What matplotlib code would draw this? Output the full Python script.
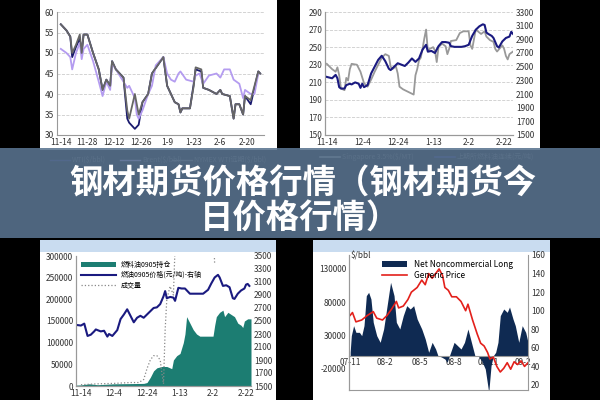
import numpy as np
import matplotlib
matplotlib.use('Agg')
import matplotlib.pyplot as plt
from matplotlib.patches import Rectangle

plt.rcParams['font.family'] = ['Noto Sans CJK SC', 'DejaVu Sans']
plt.rcParams['axes.unicode_minus'] = False

# --- top-left: crude oil ($/bbl), x = days since 11-14
tl_ticks = ['11-14', '11-28', '12-12', '12-26', '1-9', '1-23', '2-6', '2-20']
nymex_d = [0, 3, 5, 6, 8, 10, 11, 12, 14, 17, 20, 22, 24, 26, 27, 29, 33, 35, 36, 39, 41, 43, 46, 48, 51, 54,
           56, 58, 60, 62, 63, 64, 68, 70, 71, 74, 75, 78, 82, 84, 85, 89, 91, 92, 94, 96, 97, 100, 104, 105]
nymex_v = [57, 55.5, 54, 50, 52, 54.5, 50, 54.5, 54.5, 50, 46, 41, 43.5, 42, 48, 46, 44, 36, 34, 40, 35, 38, 40, 45, 47, 49,
           42, 40, 38, 37.5, 35.5, 36.5, 36.5, 42, 46.5, 46, 41.5, 41, 40, 41, 40, 39.5, 34, 37.5, 37.5, 35, 39.5, 38.5, 45.5, 45]
wti_v = [57, 55.5, 54, 49, 51.5, 53.5, 50, 54.5, 54.5, 50, 46, 41, 43.5, 42, 48, 46, 44, 34, 33, 31.5, 32.5, 38, 40, 45, 47, 49,
         42, 40, 38, 37.5, 35.5, 36.5, 36.5, 42.5, 46, 45.5, 41.5, 41, 40, 41, 40, 39.5, 34, 37.5, 37.5, 35, 39.5, 37.5, 45.5, 45]
brent_d = [0, 3, 5, 6, 8, 10, 11, 12, 14, 17, 20, 22, 24, 26, 27, 29, 33, 35, 36, 39, 40, 41, 43, 46, 48, 50, 54,
           56, 58, 60, 62, 63, 66, 70, 71, 73, 75, 78, 82, 84, 86, 89, 91, 94, 96, 97, 100, 102, 104]
brent_v = [51, 50, 49, 46, 50, 52.5, 48.5, 51, 52, 48, 43, 39.5, 43, 41, 47.5, 46, 43, 41.5, 42, 39, 35, 34, 36, 40, 42, 47, 49,
           45, 43.5, 43, 45, 45.5, 43.5, 43, 44.5, 45, 42.5, 44.5, 45, 44, 46, 46, 43.5, 42.5, 39, 41, 40, 40, 45]

# --- top-right: fuel oil
tr_ticks = ['11-14', '12-4', '12-24', '1-13', '2-2', '2-22']
sg_d = [0, 3, 5, 6, 7, 8, 10, 11, 12, 13, 14, 17, 19, 21, 23, 25, 27, 29, 31, 33, 35, 36, 37, 39, 40, 41, 43, 47, 48, 49,
        50, 51, 52, 53, 54, 55, 56, 57, 58, 60, 61, 62, 63, 65, 67, 68, 69, 70, 73, 75, 77, 80, 81, 82, 84, 87, 89, 90,
        92, 94, 95, 96, 99, 100, 101, 102, 103, 105]
sg_v = [231, 225, 222, 227, 218, 203, 201, 215, 212, 225, 231, 230, 222, 209, 205, 213, 222, 230, 238, 242, 240, 228, 225,
        228, 220, 205, 202, 198, 197, 196, 218, 225, 235, 238, 248, 260, 270, 245, 248, 250, 246, 233, 250, 254, 251, 242,
        248, 257, 258, 266, 268, 268, 252, 248, 270, 265, 268, 262, 258, 256, 248, 245, 252, 248, 240, 236, 242, 245]
shfe_d = [0, 3, 5, 6, 7, 8, 10, 11, 13, 14, 16, 18, 19, 20, 21, 23, 25, 27, 29, 31, 33, 35, 36, 38, 40, 42, 44, 46, 48, 50,
          52, 54, 56, 57, 59, 61, 63, 65, 67, 69, 70, 72, 76, 78, 80, 82, 84, 86, 88, 89, 90, 91, 93, 94, 96, 97, 99, 101,
          103, 104, 105]
shfe_v = [2350, 2330, 2380, 2330, 2200, 2180, 2180, 2230, 2250, 2240, 2270, 2250, 2190, 2250, 2200, 2230, 2400, 2500, 2600,
          2660, 2580, 2470, 2450, 2500, 2550, 2530, 2510, 2560, 2620, 2570, 2620, 2750, 2820, 2720, 2730, 2700, 2800, 2860,
          2860, 2850, 2800, 2790, 2790, 2800, 2820, 2950, 3040, 3090, 3120, 3110, 3000, 2980, 2950, 2920, 2800, 2780, 2870,
          2920, 2940, 3010, 2980]

# --- bottom-left: SHFE fuel oil 0905
bl_ticks = ['11-14', '12-4', '12-24', '1-13', '2-2', '2-22']
oi_d = [-3, 0, 5, 10, 15, 20, 30, 38, 40, 42, 44, 46, 49, 52, 55, 56, 58, 60, 62, 63, 64, 66, 68, 70, 72, 80, 81, 82, 84,
        86, 87, 89, 91, 93, 95, 97, 98, 99, 101, 103]
oi_v = [2000, 2500, 5000, 3000, 4000, 5000, 5500, 6000, 8000, 20000, 35000, 42000, 45000, 45000, 40000, 60000, 70000,
        75000, 100000, 120000, 160000, 145000, 130000, 120000, 115000, 115000, 140000, 160000, 170000, 175000, 160000,
        170000, 165000, 160000, 145000, 140000, 135000, 150000, 155000, 155000]
px_d = [-3, 0, 2, 4, 6, 8, 9, 12, 14, 16, 17, 19, 22, 24, 26, 28, 30, 32, 34, 36, 38, 40, 42, 44, 46, 48, 50, 51, 52, 54,
        56, 57, 59, 61, 63, 66, 70, 74, 77, 79, 81, 83, 84, 86, 88, 90, 92, 93, 95, 97, 99, 100, 101, 102]
px_v = [2440, 2430, 2460, 2270, 2290, 2340, 2370, 2340, 2350, 2260, 2300, 2270, 2360, 2530, 2600, 2680, 2580, 2480, 2550,
        2580, 2550, 2600, 2650, 2700, 2710, 2760, 2880, 2960, 2850, 2870, 2860, 2810, 3010, 3000, 3000, 2920, 2920, 2920,
        2980, 3080, 3170, 3210, 3170, 3040, 3050, 3020, 2850, 2840, 2920, 2970, 3000, 3060, 3070, 3040]
vol_d = [0, 10, 20, 30, 35, 38, 40, 42, 44, 46, 48, 49, 50, 51, 52, 54, 56, 57, 58, 60, 79, 80, 81]
vol_v = [3000, 5000, 6000, 8000, 8000, 15000, 40000, 60000, 70000, 70000, 60000, 30000, 5000, 130000, 200000, 230000,
         210000, 320000, 320000, 400000, 400000, 380000, 280000]

# --- bottom-right: CFTC crude (month index from 07-11)
br_ticks = ['07-11', '08-2', '08-5', '08-8', '08-11', '09-2']
net_m = [0, 0.1, 0.3, 0.5, 0.8, 1.0, 1.2, 1.4, 1.6, 1.8, 2.0, 2.3, 2.6, 2.9, 3.2, 3.5, 3.8, 4.0, 4.3, 4.6, 4.9, 5.2, 5.5,
         5.8, 6.2, 6.5, 6.8, 7.1, 7.4, 7.6, 7.9, 8.2, 8.4, 8.7, 9.0, 9.3, 9.6, 9.9, 10.2, 10.5, 10.8, 11.1, 11.4, 11.7,
         12.0, 12.2, 12.4, 12.6, 12.8, 13.0, 13.3, 13.6, 13.8, 14.1, 14.3, 14.6, 14.9, 15.2, 15.4]
net_v = [5000, 30000, 45000, 35000, 35000, 30000, 45000, 90000, 95000, 85000, 50000, 30000, 20000, 40000, 75000, 110000,
         90000, 50000, 40000, 60000, 75000, 70000, 75000, 55000, 40000, 25000, 5000, 20000, 10000, 0, -2000, -5000,
         -10000, 5000, 20000, 15000, 10000, 20000, 40000, 20000, 0, -1000, -8000, -20000, -55000, -15000, 0, 5000,
         20000, 60000, 70000, 65000, 73000, 55000, 45000, 20000, 45000, 35000, 20000]
price_m = [0, 0.2, 0.5, 1.0, 1.5, 2.0, 2.3, 2.8, 3.2, 3.6, 4.0, 4.2, 4.6, 5.0, 5.3, 5.8, 6.2, 6.5, 6.8, 7.1, 7.4, 7.7,
           8.0, 8.2, 8.5, 8.8, 9.2, 9.6, 10.0, 10.2, 10.6, 11.0, 11.3, 11.6, 11.9, 12.1, 12.4, 12.7, 13.0, 13.3, 13.6,
           13.9, 14.2, 14.5, 14.8, 15.1, 15.4]
price_v = [95, 98, 88, 90, 95, 99, 92, 90, 95, 102, 110, 103, 105, 112, 120, 125, 133, 128, 140, 135, 140, 145, 138, 125,
           122, 115, 115, 110, 100, 107, 90, 75, 65, 62, 55, 48, 50, 40, 34, 38, 44, 37, 45, 42, 46, 40, 44]

W, H = 600, 400
fig = plt.figure(figsize=(6, 4), dpi=100, facecolor='black')


def box(x0, y0, x1, y1):
    return [x0 / W, 1 - y1 / H, (x1 - x0) / W, (y1 - y0) / H]


def panel(x0, y0, x1, y1, color='white'):
    fig.patches.append(Rectangle((x0 / W, 1 - y1 / H), (x1 - x0) / W, (y1 - y0) / H,
                                 transform=fig.transFigure, facecolor=color, edgecolor='none', zorder=-2))


panel(40, 0, 277, 150)
panel(300, 0, 540, 150)
panel(40, 240, 276, 400)
panel(313, 240, 550, 400)
panel(40, 240, 276, 252, '#c9dcf0')
panel(313, 240, 550, 252, '#c9dcf0')


def style(ax, grid=True):
    ax.set_facecolor('none')
    for s in ['top', 'right']:
        ax.spines[s].set_visible(False)
    ax.spines['left'].set_color('#999999')
    ax.spines['bottom'].set_color('#999999')
    ax.tick_params(labelsize=6, length=0, pad=2, colors='#333333')
    if grid:
        ax.grid(axis='y', color='#cccccc', linestyle='--', linewidth=0.6)
    ax.set_axisbelow(True)


# top-left
ax1 = fig.add_axes(box(57, 12, 264, 135))
style(ax1)
ax1.plot(nymex_d, wti_v, color='#1a1a6e', lw=1.3)
ax1.plot(brent_d, brent_v, color='#b49cf0', lw=1.3)
ax1.plot(nymex_d, nymex_v, color='#666666', lw=1.3)
ax1.set_ylim(30, 60)
ax1.set_xlim(-2, 107)
ax1.set_yticks(range(30, 61, 5))
ax1.set_xticks(range(0, 99, 14))
ax1.set_xticklabels(tl_ticks)
for x0, lbl, c in [(50, 'WTI($/bbl)', '#1a1a6e'), (120, 'Brent($/bbl)', '#b49cf0'), (172, 'NYMEX WTI远期($/bbl)', '#666666')]:
    fig.lines.append(plt.Line2D([x0 / W, (x0 + 20) / W], [1 - 160 / H] * 2, color=c, lw=1, transform=fig.transFigure))
    fig.text((x0 + 22) / W, 1 - 160 / H, lbl, fontsize=5, color='#555555', va='center')

# top-right
ax2 = fig.add_axes(box(325, 12, 513, 135))
style(ax2)
ax2.plot(sg_d, sg_v, color='#999999', lw=1.3)
ax2.set_ylim(150, 290)
ax2.set_xlim(-1, 105)
ax2.set_yticks(range(150, 291, 20))
ax2.set_xticks(range(0, 101, 20))
ax2.set_xticklabels(tr_ticks)
ax2r = ax2.twinx()
style(ax2r, grid=False)
ax2r.plot(shfe_d, shfe_v, color='#1a1a80', lw=1.5)
ax2r.set_ylim(1500, 3300)
ax2r.set_yticks(range(1500, 3301, 200))
for x0, lbl, c in [(320, 'Singapore 3.5%($/MT)', '#999999'), (435, '上期所燃料油连续(元/吨)', '#1a1a80')]:
    fig.lines.append(plt.Line2D([x0 / W, (x0 + 20) / W], [1 - 157 / H] * 2, color=c, lw=1.2, transform=fig.transFigure))
    fig.text((x0 + 22) / W, 1 - 157 / H, lbl, fontsize=5, color='#555555', va='center')

# bottom-left
ax3 = fig.add_axes(box(76, 256, 251, 386))
style(ax3, grid=False)
ax3.fill_between(oi_d, oi_v, color='#1c7d72', lw=0, label='燃料油0905持仓')
ax3.plot(vol_d, vol_v, color='#888888', lw=0.9, linestyle=':', label='成交量')
ax3.set_ylim(0, 300000)
ax3.set_xlim(-3, 103)
ax3.set_yticks(range(0, 300001, 50000))
ax3.set_xticks(range(0, 101, 20))
ax3.set_xticklabels(bl_ticks)
ax3r = ax3.twinx()
style(ax3r, grid=False)
ax3r.plot(px_d, px_v, color='#1a1a80', lw=1.5, label='燃油0905价格(元/吨)-右轴')
ax3r.set_ylim(1500, 3500)
ax3r.set_yticks(range(1500, 3501, 200))
h1, l1 = ax3.get_legend_handles_labels()
h2, l2 = ax3r.get_legend_handles_labels()
ax3r.legend([h1[0], h2[0], h1[1]], [l1[0], l2[0], l1[1]], loc='upper left', fontsize=5,
            frameon=False, handlelength=5, borderaxespad=0.3, labelspacing=0.3)

# bottom-right
ax4 = fig.add_axes(box(349, 255, 528, 390))
style(ax4, grid=False)
ax4.fill_between(net_m, net_v, color='#0f2a52', lw=0, label='Net Noncommercial Long')
ax4.set_ylim(-51500, 151000)
ax4.set_xlim(-0.1, 15.4)
ax4.set_yticks([-20000, 30000, 80000, 130000])
ax4.set_xticks(range(0, 16, 3))
ax4.set_xticklabels(br_ticks)
ax4.spines['bottom'].set_position(('data', 0))
ax4.text(0, 145000, '$/bbl', fontsize=6, color='#333333')
ax4r = ax4.twinx()
style(ax4r, grid=False)
ax4r.spines['right'].set_visible(True)
ax4r.spines['right'].set_color('#999999')
ax4r.plot(price_m, price_v, color='#e3201b', lw=1.2, label='Generic Price')
ax4r.set_ylim(14.6, 160)
ax4r.set_yticks(range(20, 161, 20))
h1, l1 = ax4.get_legend_handles_labels()
h2, l2 = ax4r.get_legend_handles_labels()
ax4r.legend(h1 + h2, l1 + l2, loc='upper center', bbox_to_anchor=(0.55, 1.02), fontsize=6,
            frameon=False, handlelength=3, labelspacing=0.3)

# banner
fig.patches.append(Rectangle((0, 1 - 238 / H), 1, 90 / H, transform=fig.transFigure,
                             facecolor='#5a7490', alpha=0.88, edgecolor='none', zorder=5))
fig.text(0.505, 1 - 184 / H, '钢材期货价格行情（钢材期货今', fontsize=24, fontweight='bold',
         color='white', ha='center', va='center', zorder=6)
fig.text(0.5, 1 - 219 / H, '日价格行情）', fontsize=24, fontweight='bold',
         color='white', ha='center', va='center', zorder=6)

fig.savefig('out.png', dpi=100, facecolor='black')
